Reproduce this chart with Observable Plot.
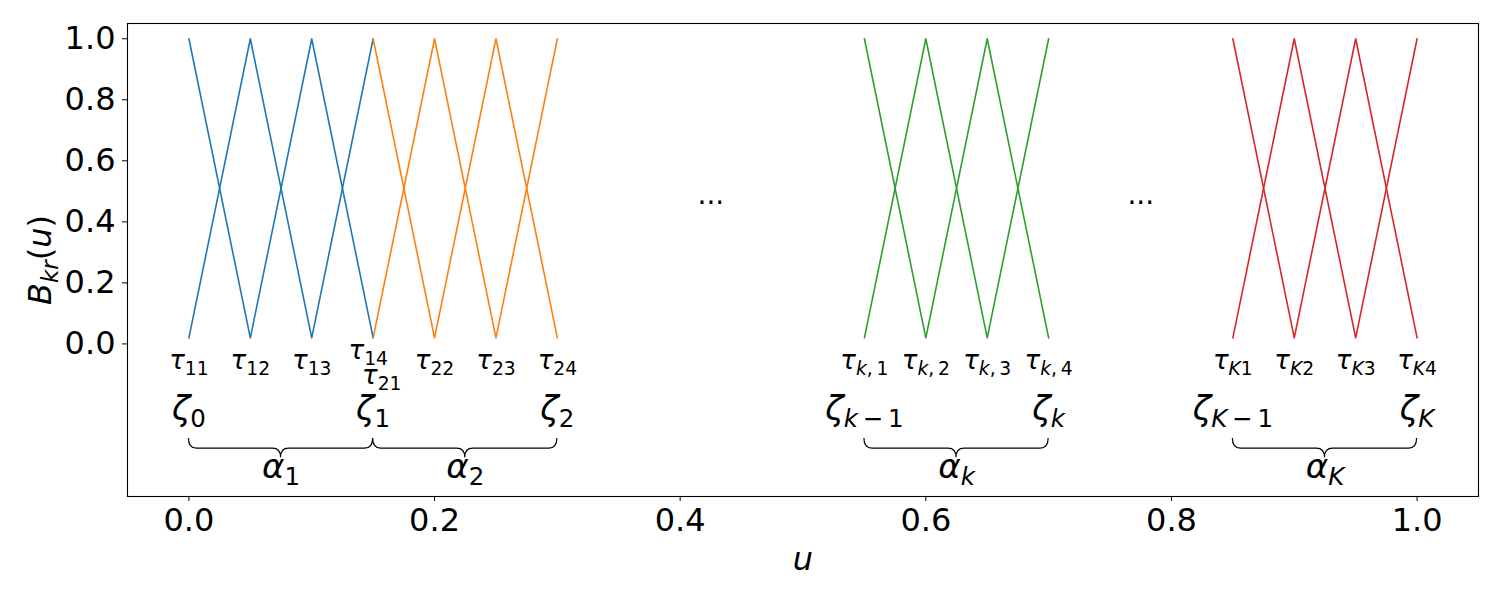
<!DOCTYPE html>
<html><head><meta charset="utf-8">
<script src="https://cdn.jsdelivr.net/npm/d3@7"></script>
<script src="https://cdn.jsdelivr.net/npm/@observablehq/plot@0.6"></script>
<style>
body{margin:0;background:#fff;}
#chart svg{display:block;}
</style></head><body><div id="chart"></div>
<script>
// ---- data ----
const seriesNames = ["group1", "group2", "groupk", "groupK"];
const seriesColors = ["#1f77b4", "#ff7f0e", "#2ca02c", "#d62728"];
const knots1 = [0.00, 0.05, 0.10, 0.15];
const knots2 = [0.15, 0.20, 0.25, 0.30];
const knotsk = [0.55, 0.60, 0.65, 0.70];
const knotsK = [0.85, 0.90, 0.95, 1.00];
const peakValue = 1.0;
const baseValue = 0.02;

const tauLabels = ["τ_{11}","τ_{12}","τ_{13}","τ_{14}","τ_{21}","τ_{22}","τ_{23}","τ_{24}",
  "τ_{k,1}","τ_{k,2}","τ_{k,3}","τ_{k,4}","τ_{K1}","τ_{K2}","τ_{K3}","τ_{K4}"];
const tauX = [0.00,0.05,0.10,0.146,0.157,0.20,0.25,0.30,0.55,0.60,0.65,0.70,0.85,0.90,0.95,1.00];
const tauY = [-0.082,-0.082,-0.082,-0.050,-0.131,-0.082,-0.082,-0.082,
  -0.082,-0.082,-0.082,-0.082,-0.082,-0.082,-0.082,-0.082];

const zetaLabels = ["ζ_{0}","ζ_{1}","ζ_{2}","ζ_{k-1}","ζ_{k}","ζ_{K-1}","ζ_{K}"];
const zetaX = [0.00,0.15,0.30,0.55,0.70,0.85,1.00];
const zetaY = -0.248;

const braceFrom = [0.00, 0.15, 0.55, 0.85];
const braceTo   = [0.15, 0.30, 0.70, 1.00];
const alphaLabels = ["α_{1}","α_{2}","α_{k}","α_{K}"];
const alphaY = -0.438;

const ellipsisX = [0.425, 0.775];
const ellipsisY = 0.457;

const xTicks = [0.0, 0.2, 0.4, 0.6, 0.8, 1.0];
const yTicks = [0.0, 0.2, 0.4, 0.6, 0.8, 1.0];
const xLabel = "u";
const yLabel = "B_{kr}(u)";

// ---- derived tables ----
const allKnots = [knots1, knots2, knotsk, knotsK];
const lineData = [];
allKnots.forEach((knots, si) => {
  [0, 1].forEach(phase => {
    knots.forEach((k, i) => lineData.push({
      series: seriesNames[si], path: si * 2 + phase, x: k,
      y: (i + phase) % 2 === 0 ? peakValue : baseValue
    }));
  });
});
const tauData = tauLabels.map((t, i) => ({label: t, x: tauX[i], y: tauY[i]}));
const zetaData = zetaLabels.map((t, i) => ({label: t, x: zetaX[i], y: zetaY}));
const alphaData = alphaLabels.map((t, i) => ({label: t, x: (braceFrom[i] + braceTo[i]) / 2, y: alphaY}));
const ellipsisData = ellipsisX.map(x => ({x, y: ellipsisY, label: "..."}));

const braceTopY = -0.310, braceLineY = -0.343, braceTipY = -0.373;

function braces(index, scales) {
  const {x, y} = scales;
  const g = d3.create("svg:g").attr("fill", "none").attr("stroke", "black").attr("stroke-width", 1.2);
  braceFrom.forEach((a, i) => {
    const x1 = x(a), x2 = x(braceTo[i]), xm = (x1 + x2) / 2;
    const yt = y(braceTopY), ym = y(braceLineY), yb = y(braceTipY);
    const r = 8;
    g.append("path").attr("d",
      `M${x1},${yt}Q${x1},${ym} ${x1 + r},${ym}L${xm - r},${ym}Q${xm},${ym} ${xm},${yb}` +
      `M${xm},${yb}Q${xm},${ym} ${xm + r},${ym}L${x2 - r},${ym}Q${x2},${ym} ${x2},${yt}`);
  });
  return g.node();
}

const chart = Plot.plot({
  width: 1500, height: 600,
  marginLeft: 127, marginRight: 22, marginTop: 23, marginBottom: 104,
  x: {domain: [-0.05, 1.05]},
  y: {domain: [-0.5, 1.05]},
  color: {domain: seriesNames, range: seriesColors},
  style: {fontFamily: "DejaVu Sans", fontSize: "30px", color: "black", background: "white", overflow: "visible"},
  marks: [
    Plot.axisX({ticks: xTicks, tickFormat: ".1f", tickSize: 5, tickPadding: 7, fontSize: 32, label: null}),
    Plot.axisY({ticks: yTicks, tickFormat: ".1f", tickSize: 5, tickPadding: 7, fontSize: 32, label: null}),
    Plot.line(lineData, {x: "x", y: "y", z: "path", stroke: "series", strokeWidth: 1.6}),
    Plot.text(tauData, {x: "x", y: "y", text: "label", lineAnchor: "bottom", textAnchor: "middle", fontSize: 26}),
    Plot.text(zetaData, {x: "x", y: "y", text: "label", lineAnchor: "bottom", textAnchor: "middle", fontSize: 34}),
    Plot.text(alphaData, {x: "x", y: "y", text: "label", lineAnchor: "bottom", textAnchor: "middle", fontSize: 34}),
    Plot.text(ellipsisData, {x: "x", y: "y", text: "label", lineAnchor: "bottom", textAnchor: "middle", fontSize: 28}),
    braces,
    Plot.text([xLabel], {text: d => d, frameAnchor: "bottom", dy: 73, lineAnchor: "bottom", textAnchor: "middle", fontSize: 32}),
    Plot.text([yLabel], {text: d => d, frameAnchor: "left", dx: -77, rotate: -90, lineAnchor: "bottom", textAnchor: "middle", fontSize: 32}),
    Plot.frame({stroke: "black", strokeWidth: 1.1})
  ]
});
document.getElementById("chart").appendChild(chart);

// ---- render simple math markup (subscripts, italic letters) as tspans ----
const letterRe = /[A-Za-z\u0370-\u03FF]/;
function mathify(el) {
  const src = el.textContent;
  const fs = parseFloat(getComputedStyle(el).fontSize);
  const shift = 0.22 * fs;
  const segs = [];
  let i = 0;
  while (i < src.length) {
    if (src[i] === "_") {
      let s;
      if (src[i + 1] === "{") { const j = src.indexOf("}", i); s = src.slice(i + 2, j); i = j + 1; }
      else { s = src[i + 1]; i += 2; }
      segs.push({t: s, sub: true});
    } else {
      let j = i; while (j < src.length && src[j] !== "_") j++;
      segs.push({t: src.slice(i, j), sub: false}); i = j;
    }
  }
  el.textContent = "";
  let inSub = false;
  segs.forEach(seg => {
    let t = seg.t.replace(/-/g, "\u2009\u2212\u2009").replace(/,/g, ",\u2009");
    const runs = [];
    for (const ch of t) {
      const it = letterRe.test(ch);
      if (runs.length && runs[runs.length - 1].it === it) runs[runs.length - 1].s += ch;
      else runs.push({s: ch, it});
    }
    runs.forEach((r, k) => {
      const ts = document.createElementNS("http://www.w3.org/2000/svg", "tspan");
      ts.textContent = r.s;
      ts.setAttribute("font-style", r.it ? "italic" : "normal");
      if (seg.sub) ts.setAttribute("font-size", (0.72 * fs) + "px");
      if (k === 0 && seg.sub !== inSub) ts.setAttribute("dy", seg.sub ? shift : -shift);
      el.appendChild(ts);
    });
    inSub = seg.sub;
  });
}
chart.querySelectorAll("text").forEach(el => {
  if (letterRe.test(el.textContent)) mathify(el);
});
</script>
</body></html>
